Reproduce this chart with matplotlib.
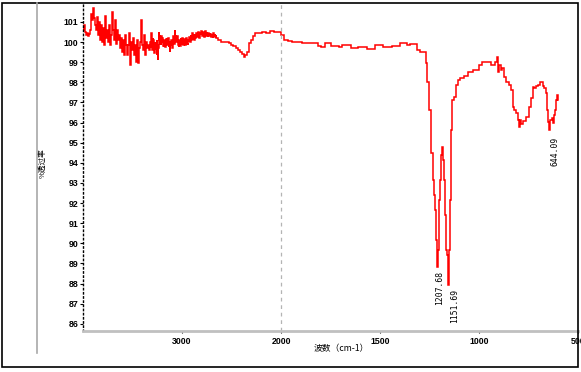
import numpy as np
import matplotlib
matplotlib.use("Agg")
import matplotlib.pyplot as plt
from matplotlib.patches import Rectangle
from matplotlib.lines import Line2D

# ---------------- data ----------------
# very noisy high-wavenumber part (cm-1)
wn_noisy_a = [4000, 3990, 3980, 3970, 3960, 3950, 3940, 3930, 3920, 3910,
              3900, 3890, 3880, 3870, 3860, 3850, 3840, 3830, 3820, 3810,
              3800, 3790, 3780, 3770, 3760, 3750, 3740, 3730, 3720, 3710,
              3700, 3690, 3680, 3670, 3660, 3650, 3640, 3630, 3620, 3610,
              3600, 3590, 3580, 3570, 3560, 3550, 3540, 3530, 3520, 3510,
              3500, 3490, 3480, 3470, 3460, 3450, 3440, 3430, 3420, 3410,
              3400, 3390, 3380, 3370, 3360, 3350, 3340]
t_noisy_a = [100.70, 100.60, 100.84, 100.50, 100.35, 100.45, 100.30, 100.40, 100.60, 101.39,
             101.09, 101.69, 101.19, 100.84, 100.60, 101.24, 100.35, 100.99, 100.10, 100.84,
             100.00, 100.70, 99.85, 101.29, 100.20, 100.60, 100.00, 100.84, 99.85, 100.35,
             101.49, 100.60, 100.10, 101.09, 99.90, 100.60, 100.10, 100.35, 99.70, 100.20,
             99.50, 100.10, 99.35, 100.35, 99.85, 99.35, 99.85, 100.45, 98.86, 100.00,
             99.60, 100.20, 99.35, 99.85, 99.01, 100.10, 98.96, 99.70, 100.00, 101.09,
             99.85, 99.60, 100.35, 99.35, 100.00, 99.70, 99.85]

# moderately noisy part (cm-1)
wn_noisy_b = [3330, 3325, 3320, 3315, 3310, 3305, 3300, 3295, 3290, 3285,
              3280, 3275, 3270, 3265, 3260, 3255, 3250, 3245, 3240, 3235,
              3230, 3225, 3220, 3215, 3210, 3205, 3200, 3195, 3190, 3185,
              3180, 3175, 3170, 3165, 3160, 3155, 3150, 3145, 3140, 3135,
              3130, 3125, 3120, 3115, 3110, 3105, 3100, 3095, 3090, 3085,
              3080, 3075, 3070, 3065, 3060, 3055, 3050, 3045, 3040, 3035,
              3030, 3025, 3020, 3015, 3010, 3005, 3000, 2995, 2990, 2985,
              2980, 2975, 2970, 2965, 2960, 2955, 2950, 2945, 2940, 2935,
              2930, 2925, 2920, 2915, 2910, 2905, 2900, 2895, 2890, 2885,
              2880, 2875, 2870, 2865, 2860, 2855, 2850, 2845, 2840, 2835,
              2830, 2825, 2820, 2815, 2810, 2805, 2800, 2795, 2790, 2785,
              2780, 2775, 2770, 2765, 2760, 2755, 2750, 2745, 2740, 2735,
              2730, 2725, 2720, 2715, 2710, 2705, 2700, 2695, 2690, 2685,
              2680, 2675, 2670, 2665, 2660, 2655, 2650]
t_noisy_b = [99.60, 100.00, 100.00, 99.70, 100.45, 99.85, 99.60, 100.20, 100.10, 99.50,
             99.45, 100.00, 99.85, 99.60, 99.70, 100.10, 99.35, 99.85, 99.11, 99.70,
             100.50, 100.10, 100.35, 99.90, 99.85, 100.30, 99.95, 100.20, 100.20, 99.80,
             99.75, 100.10, 100.10, 99.75, 99.85, 100.15, 100.20, 99.85, 99.90, 100.20,
             99.75, 100.00, 99.50, 99.90, 99.80, 100.10, 100.10, 99.70, 99.90, 100.30,
             100.20, 99.90, 100.60, 100.10, 100.35, 100.00, 100.00, 100.30, 100.20, 99.85,
             99.75, 100.10, 100.10, 99.80, 100.20, 99.90, 99.90, 100.20, 100.10, 99.85,
             99.85, 100.15, 100.05, 99.85, 99.95, 100.20, 100.10, 99.90, 99.85, 100.10,
             100.00, 100.25, 100.20, 100.00, 100.35, 100.10, 100.25, 100.45, 100.10, 100.35,
             100.30, 100.10, 100.40, 100.20, 100.25, 100.45, 100.45, 100.25, 100.30, 100.50,
             100.40, 100.20, 100.25, 100.45, 100.35, 100.55, 100.50, 100.30, 100.35, 100.50,
             100.45, 100.25, 100.40, 100.55, 100.50, 100.30, 100.35, 100.50, 100.40, 100.25,
             100.45, 100.30, 100.30, 100.45, 100.40, 100.25, 100.25, 100.40, 100.35, 100.20,
             100.45, 100.30, 100.30, 100.40, 100.25, 100.35, 100.20]

# smoother part (cm-1)
wn_main = [2616, 2596, 2566, 2535, 2515, 2495, 2465, 2444, 2424, 2404,
           2384, 2364, 2354, 2333, 2313, 2293, 2273, 2253, 2212, 2172,
           2131, 2091, 2051, 2010, 1990, 1975, 1955, 1929, 1904, 1879,
           1854, 1828, 1803, 1788, 1768, 1753, 1737, 1717, 1702, 1677,
           1652, 1636, 1621, 1601, 1576, 1551, 1535, 1520, 1495, 1475,
           1450, 1424, 1404, 1389, 1369, 1359, 1338, 1318, 1308, 1293,
           1273, 1263, 1258, 1248, 1237, 1232, 1227, 1222, 1217, 1212,
           1207.68, 1202, 1197, 1192, 1187, 1182, 1177, 1172, 1167, 1162,
           1157, 1151.69, 1147, 1142, 1137, 1131, 1121, 1111, 1106, 1086,
           1061, 1046, 1010, 995, 970, 945, 929, 914, 909, 904,
           894, 884, 879, 869, 854, 844, 833, 828, 818, 808,
           803, 793, 788, 783, 768, 753, 743, 732, 727, 717,
           707, 692, 687, 677, 672, 667, 657, 652, 647, 644.09,
           636, 631, 626, 621, 616, 611, 606, 601]
t_main = [100.10, 100.00, 100.00, 100.00, 99.95, 99.85, 99.80, 99.70, 99.60, 99.50,
          99.40, 99.25, 99.35, 99.50, 99.95, 100.10, 100.30, 100.45, 100.45, 100.50,
          100.45, 100.55, 100.50, 100.50, 100.35, 100.10, 100.05, 100.00, 100.00, 99.93,
          99.93, 99.95, 99.80, 99.75, 99.95, 99.95, 99.80, 99.80, 99.75, 99.83,
          99.85, 99.70, 99.70, 99.75, 99.75, 99.65, 99.65, 99.83, 99.85, 99.75,
          99.75, 99.78, 99.78, 99.97, 99.97, 99.85, 99.90, 99.90, 99.60, 99.50,
          99.50, 98.96, 98.01, 96.62, 94.49, 93.14, 92.40, 91.65, 90.16, 89.47,
          88.82, 89.67, 92.15, 93.14, 94.39, 94.78, 94.14, 93.14, 91.41, 89.67,
          89.42, 87.93, 89.67, 92.15, 95.63, 97.12, 97.27, 97.86, 98.11, 98.21,
          98.31, 98.51, 98.61, 98.86, 99.01, 99.01, 98.86, 99.01, 99.25, 98.51,
          98.86, 98.61, 98.71, 98.26, 98.01, 97.86, 97.62, 96.77, 96.62, 96.47,
          96.13, 95.78, 96.13, 95.93, 96.08, 96.27, 96.77, 97.22, 97.76, 97.71,
          97.81, 97.86, 98.01, 98.01, 97.81, 97.71, 97.47, 96.62, 96.03, 95.63,
          96.13, 96.22, 95.98, 96.37, 96.62, 97.12, 97.37, 97.12]

peak_wn = [1207.68, 1151.69, 644.09]
peak_t = [88.82, 87.93, 95.63]
peak_labels = ["1207.68", "1151.69", "644.09"]

x_ticks = [3000, 2000, 1500, 1000, 500]
y_ticks = list(range(86, 102))

wavenumber = wn_noisy_a + wn_noisy_b + wn_main
transmittance = t_noisy_a + t_noisy_b + t_main

# ---------------- figure ----------------
W, H = 581, 372
fig = plt.figure(figsize=(W / 100, H / 100), dpi=100)

def px_x(p):
    return p / W

def px_y(p):
    return 1 - p / H

ax = fig.add_axes([px_x(83), px_y(331), px_x(578) - px_x(83), px_y(3) - px_y(331)])


def fwd(w):
    w = np.asarray(w, dtype=float)
    return np.where(w > 2000, 2000 + (w - 2000) / 2.0, w)


def inv(u):
    u = np.asarray(u, dtype=float)
    return np.where(u > 2000, 2000 + (u - 2000) * 2.0, u)


ax.set_xscale('function', functions=(fwd, inv))
ax.set_xlim(4000, 500)
ax.set_ylim(85.64, 101.94)

ax.plot(wavenumber, transmittance, color='#ff0000', lw=1.1,
        drawstyle='steps-mid', solid_joinstyle='miter')

# dashed separator at 2000
ax.axvline(2000, color='#b4b4b4', lw=0.9, ls=(0, (3, 3)))

# spines
for s in ['top', 'right']:
    ax.spines[s].set_visible(False)
ax.spines['left'].set_linestyle((0, (1, 2)))
ax.spines['left'].set_linewidth(1.0)
ax.spines['left'].set_color('black')
ax.spines['bottom'].set_color('#c0c0c0')
ax.spines['bottom'].set_linewidth(2.0)

ax.set_xticks(x_ticks)
ax.set_xticklabels([str(v) for v in x_ticks])
ax.xaxis.set_minor_locator(matplotlib.ticker.NullLocator())
ax.set_yticks(y_ticks)
ax.set_yticklabels([str(v) for v in y_ticks])
ax.tick_params(axis='y', direction='out', length=2.2, width=0.8, pad=1.2,
               labelsize=6.3, colors='black')
ax.tick_params(axis='x', direction='out', length=1.5, width=0.8, pad=2.5,
               labelsize=6.3, colors='black')
for lab in ax.get_xticklabels() + ax.get_yticklabels():
    lab.set_family('Liberation Sans')
    lab.set_fontweight('bold')

# peak labels
offsets = [(1.2, -2.5), (4.0, -2.5), (4.0, -5.0)]
for w, t, lab, off in zip(peak_wn, peak_t, peak_labels, offsets):
    ax.annotate(lab, xy=(w, t), xytext=off, textcoords='offset points',
                rotation=90, ha='center', va='top', fontsize=5.8,
                family='DejaVu Sans Mono', color='black')

# axis labels as figure text
fig.text(px_x(341), px_y(349), "波数（cm-1）", ha='center', va='center',
         fontsize=6.3, family=['Noto Sans CJK SC', 'DejaVu Sans'])
fig.text(px_x(43), px_y(163), "%透过率", ha='center', va='center', rotation=90,
         fontsize=5.5, family=['Noto Sans CJK SC', 'DejaVu Sans'])

# gray vertical line at left
fig.add_artist(Line2D([px_x(37), px_x(37)], [px_y(3), px_y(353)],
                      color='#a8a8a8', lw=1.2, transform=fig.transFigure))
# outer black border
fig.add_artist(Rectangle((px_x(2), px_y(367)), px_x(578) - px_x(2), px_y(3) - px_y(367),
                         fill=False, edgecolor='black', lw=1.2,
                         transform=fig.transFigure))

fig.savefig('out.png', dpi=100)
